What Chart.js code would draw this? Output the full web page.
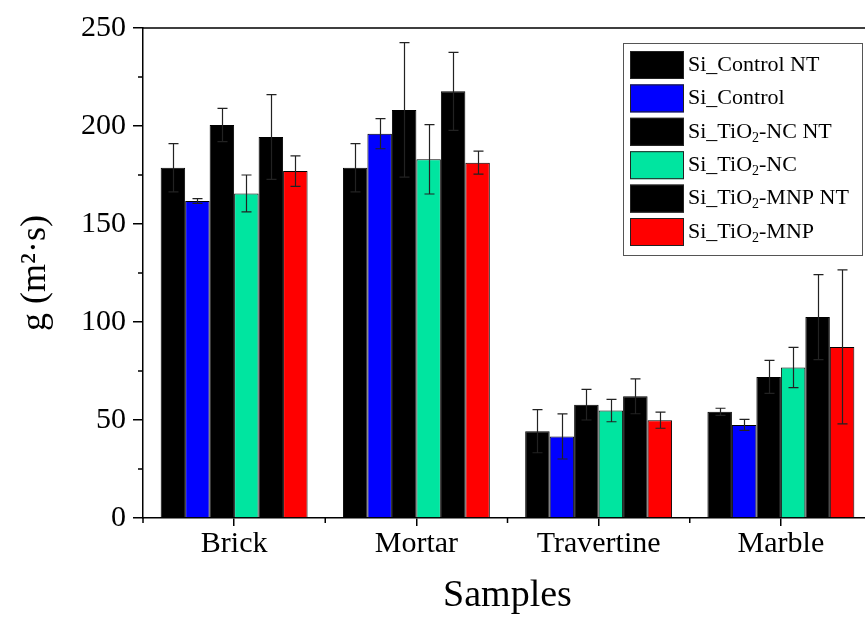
<!DOCTYPE html>
<html>
<head>
<meta charset="utf-8">
<script src="https://cdn.jsdelivr.net/npm/chart.js@4"></script>
<style>
  html, body { margin: 0; padding: 0; background: #fff; overflow: hidden; }
  canvas { display: block; }
</style>
</head>
<body>
<canvas class="js-chart" width="873" height="619"></canvas>
<script>
const samples = ["Brick", "Mortar", "Travertine", "Marble"];

const seriesNames = ["Si_Control NT", "Si_Control", "Si_TiO₂-NC NT", "Si_TiO₂-NC", "Si_TiO₂-MNP NT", "Si_TiO₂-MNP"];
const seriesColors = ["#000000", "#0000ff", "#000000", "#00e5a0", "#000000", "#ff0000"];

const controlNT = [178.7, 178.7, 44.3, 54.2];
const controlNTErr = [12.3, 12.3, 11.0, 1.8];
const control = [161.7, 196.1, 41.6, 47.5];
const controlErr = [1.2, 7.7, 11.5, 2.8];
const ncNT = [200.5, 208.2, 57.8, 72.0];
const ncNTErr = [8.5, 34.3, 7.8, 8.4];
const nc = [165.6, 183.0, 54.8, 76.8];
const ncErr = [9.4, 17.7, 5.7, 10.3];
const mnpNT = [194.4, 217.7, 62.1, 102.5];
const mnpNTErr = [21.6, 19.9, 8.9, 21.7];
const mnp = [177.0, 181.3, 49.9, 87.3];
const mnpErr = [7.8, 5.9, 4.1, 39.3];

const yTicks = [0, 50, 100, 150, 200, 250];

const values = [controlNT, control, ncNT, nc, mnpNT, mnp];
const errors = [controlNTErr, controlErr, ncNTErr, ncErr, mnpNTErr, mnpErr];

const serif = "'Liberation Serif', 'DejaVu Serif', serif";

// draw text where "₂" becomes a lowered small 2
const drawRich = function (ctx, text, x, y, size) {
  const parts = text.split("₂");
  parts.forEach(function (p, i) {
    ctx.font = size + "px " + serif;
    ctx.fillText(p, x, y);
    x += ctx.measureText(p).width;
    if (i < parts.length - 1) {
      ctx.font = Math.round(size * 0.62) + "px " + serif;
      ctx.fillText("2", x, y + size * 0.28);
      x += ctx.measureText("2").width;
    }
  });
};

const extras = {
  id: "extras",
  afterDatasetsDraw(chart) {
    const ctx = chart.ctx;
    const yScale = chart.scales.y;
    ctx.save();
    ctx.strokeStyle = "#222";
    ctx.lineWidth = 1.2;
    chart.data.datasets.forEach(function (ds, i) {
      const meta = chart.getDatasetMeta(i);
      meta.data.forEach(function (bar, j) {
        const v = ds.data[j];
        const e = errors[i][j];
        const top = yScale.getPixelForValue(v + e);
        const bot = yScale.getPixelForValue(v - e);
        const x = Math.round(bar.x) + 0.5;
        ctx.beginPath();
        ctx.moveTo(x, top);
        ctx.lineTo(x, bot);
        ctx.moveTo(x - 5, top);
        ctx.lineTo(x + 5, top);
        ctx.moveTo(x - 5, bot);
        ctx.lineTo(x + 5, bot);
        ctx.stroke();
      });
    });
    ctx.restore();
  },
  afterDraw(chart) {
    const ctx = chart.ctx;
    const area = chart.chartArea;
    const x = chart.scales.x;
    const y = chart.scales.y;
    ctx.save();
    ctx.strokeStyle = "#000";
    ctx.lineWidth = 1.5;
    // frame top and right
    ctx.beginPath();
    ctx.moveTo(area.left, area.top);
    ctx.lineTo(area.right, area.top);
    ctx.lineTo(area.right, area.bottom);
    ctx.stroke();
    // minor ticks
    ctx.beginPath();
    for (let v = 25; v < 250; v += 50) {
      const py = y.getPixelForValue(v);
      ctx.moveTo(area.left, py);
      ctx.lineTo(area.left - 5, py);
    }
    for (let k = 0; k <= samples.length; k++) {
      const px = x.getPixelForValue(k - 0.5);
      ctx.moveTo(px, area.bottom);
      ctx.lineTo(px, area.bottom + 5);
    }
    ctx.stroke();

    // legend box
    const lx = 623, ly = 43, lw = 239, lh = 212;
    ctx.fillStyle = "#fff";
    ctx.fillRect(lx, ly, lw, lh);
    ctx.strokeStyle = "#555";
    ctx.lineWidth = 1;
    ctx.strokeRect(lx + 0.5, ly + 0.5, lw, lh);
    ctx.textBaseline = "middle";
    chart.data.datasets.forEach(function (ds, i) {
      const cy = 65 + i * 33.4;
      ctx.fillStyle = ds.backgroundColor;
      ctx.fillRect(630, cy - 14, 54, 28);
      ctx.strokeStyle = "#222";
      ctx.strokeRect(630.5, cy - 13.5, 53, 27);
      ctx.fillStyle = "#000";
      drawRich(ctx, ds.label, 688, cy, 22);
    });
    ctx.restore();
  },
};

const chartSamples = function () {
  const canvas = document.querySelector(".js-chart");
  new Chart(canvas, {
    type: "bar",
    data: {
      labels: samples,
      datasets: seriesNames.map(function (name, i) {
        return {
          label: name,
          data: values[i],
          backgroundColor: seriesColors[i],
          borderColor: "#000",
          borderWidth: 1,
          barPercentage: 1,
          categoryPercentage: 0.806,
        };
      }),
    },
    options: {
      responsive: false,
      animation: false,
      layout: { padding: { top: 28, right: 1, left: 0, bottom: 0 } },
      plugins: {
        legend: { display: false },
        tooltip: { enabled: false },
      },
      scales: {
        x: {
          grid: { offset: false, drawOnChartArea: false, tickLength: 8, color: "#000", lineWidth: 1.5 },
          border: { color: "#000", width: 1.5 },
          ticks: { color: "#000", padding: 0, font: { family: serif, size: 30 } },
          title: {
            display: true,
            text: "Samples",
            color: "#000",
            font: { family: serif, size: 38 },
            padding: { top: 0, bottom: 0 },
          },
          afterFit(scale) {
            scale.height = 101;
          },
        },
        y: {
          min: 0,
          max: 250,
          afterBuildTicks(scale) {
            scale.ticks = yTicks.map(function (v) {
              return { value: v };
            });
          },
          grid: { drawOnChartArea: false, tickLength: 10, color: "#000", lineWidth: 1.5 },
          border: { color: "#000", width: 1.5 },
          ticks: { color: "#000", padding: 7, font: { family: serif, size: 30 } },
          title: {
            display: true,
            text: "g (m²·s)",
            color: "#000",
            font: { family: serif, size: 36 },
            padding: { top: 14, bottom: 0 },
          },
          afterFit(scale) {
            scale.width = 143;
          },
        },
      },
    },
    plugins: [extras],
  });
};

const init = function () {
  chartSamples();
};

document.addEventListener("DOMContentLoaded", init);
</script>
</body>
</html>
